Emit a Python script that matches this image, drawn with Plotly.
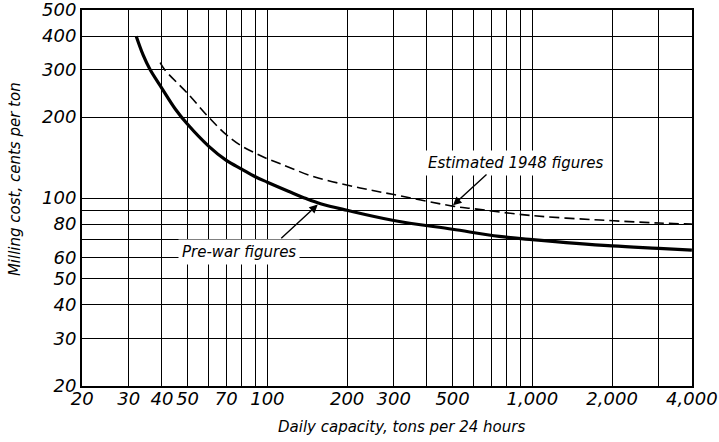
import numpy as np
import plotly.graph_objects as go

# Pre-war curve
prewar_x = [32, 34, 36, 40, 45, 50, 60, 70, 80, 90, 100, 120, 140, 160, 200, 300, 500, 750, 1000, 2000, 3000, 4000]
prewar_y = [400, 340, 302, 256, 214, 188, 156, 138, 128, 120, 114.5, 106, 99.5, 95, 90, 82.5, 76.5, 72, 70, 66.3, 65, 64]

# Estimated 1948 curve
est_x = [39.4, 41, 50, 60, 70, 80, 90, 100, 112, 150, 224, 300, 500, 600, 1000, 1800, 3000, 4000]
est_y = [319, 300, 245, 200, 172, 156, 147, 140, 134, 120, 109, 103, 93.3, 91.2, 86, 82.8, 80.7, 80]

# grid lines / tick labels
x_grid = [20, 30, 40, 50, 60, 70, 80, 90, 100, 200, 300, 400, 500, 600, 700, 800, 900, 1000, 2000, 3000, 4000]
x_text = ["20", "30", "40", "50", "", "70", "", "", "100", "200", "300", "", "500", "", "", "", "",
          "1,000", "2,000", "", "4,000"]
y_grid = [20, 30, 40, 50, 60, 70, 80, 90, 100, 200, 300, 400, 500]
y_text = ["20", "30", "40", "50", "60", "", "80", "", "100", "200", "300", "400", "500"]

FONT = "DejaVu Sans"

fig = go.Figure()
fig.add_trace(go.Scatter(x=est_x, y=est_y, mode="lines", line_shape="spline",
                         line=dict(color="black", width=1.6, dash="10px,5px"),
                         showlegend=False, hoverinfo="skip"))
fig.add_trace(go.Scatter(x=prewar_x, y=prewar_y, mode="lines", line_shape="spline",
                         line=dict(color="black", width=3.2),
                         showlegend=False, hoverinfo="skip"))

label_font = dict(family=FONT, size=15, color="black", style="italic")

# text labels (white box breaks the grid behind them)
fig.add_annotation(x=np.log10(78), y=np.log10(63), text="Pre-war figures",
                   showarrow=False, bgcolor="white", font=label_font, borderpad=3)
fig.add_annotation(x=np.log10(870), y=np.log10(135), text="Estimated 1948 figures",
                   showarrow=False, bgcolor="white", font=label_font, borderpad=3)

# arrows
fig.add_annotation(x=np.log10(155), y=np.log10(94.5), text="", showarrow=True,
                   arrowhead=2, arrowsize=1.2, arrowwidth=1.4, arrowcolor="black",
                   ax=-38, ay=35)
fig.add_annotation(x=np.log10(502), y=np.log10(94), text="", showarrow=True,
                   arrowhead=2, arrowsize=1.2, arrowwidth=1.4, arrowcolor="black",
                   ax=35, ay=-32)

tick_font = dict(family=FONT, size=18, color="black", style="italic")
title_font = dict(family=FONT, size=15, color="black", style="italic")

# axis titles
fig.add_annotation(xref="paper", yref="paper", x=0.523, y=-0.109,
                   xanchor="center", yanchor="middle",
                   text="Daily capacity, tons per 24 hours", showarrow=False, font=title_font)
fig.add_annotation(xref="paper", yref="paper", x=-0.11, y=0.55, textangle=-90,
                   xanchor="center", yanchor="middle",
                   text="Milling cost, cents per ton", showarrow=False, font=title_font)

fig.update_xaxes(type="log", range=[np.log10(20) - 0.0005, np.log10(4000) + 0.0005],
                 tickmode="array", tickvals=x_grid, ticktext=x_text,
                 showgrid=True, gridcolor="black", gridwidth=1.4,
                 showline=True, linecolor="black", linewidth=2, mirror=True,
                 ticks="", tickfont=tick_font, ticklabelstandoff=-5,
                 ticklabeloverflow="allow", automargin=False)
fig.update_yaxes(type="log", range=[np.log10(20) - 0.0005, np.log10(500) + 0.0005],
                 tickmode="array", tickvals=y_grid, ticktext=y_text,
                 showgrid=True, gridcolor="black", gridwidth=1.4,
                 showline=True, linecolor="black", linewidth=2, mirror=True,
                 ticks="", tickfont=tick_font, ticklabeloverflow="allow", automargin=False)

fig.update_layout(width=719, height=442, plot_bgcolor="white", paper_bgcolor="white",
                  margin=dict(l=82, r=27, t=10, b=56))

# drop the browser's default body margin so the figure sits at the window's corner
fig.write_html("out.html", config={"displayModeBar": False},
               post_script="document.body.style.margin='0';")
